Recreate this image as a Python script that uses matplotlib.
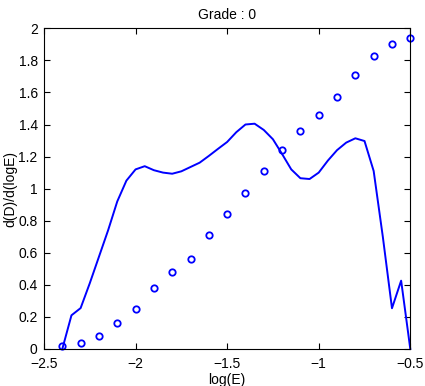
import matplotlib
matplotlib.use("Agg")
import matplotlib.pyplot as plt
import numpy as np

plt.rcParams['font.family'] = ['Liberation Sans', 'DejaVu Sans']

# Circle markers
marker_x = [-2.4, -2.3, -2.2, -2.1, -2.0, -1.9, -1.8, -1.7, -1.6, -1.5,
            -1.4, -1.3, -1.2, -1.1, -1.0, -0.9, -0.8, -0.7, -0.6, -0.5]
marker_y = [0.02, 0.04, 0.08, 0.16, 0.25, 0.38, 0.48, 0.56, 0.71, 0.84,
            0.97, 1.11, 1.24, 1.36, 1.46, 1.57, 1.71, 1.83, 1.90, 1.94]

# Line
line_x = [-2.4, -2.35, -2.3, -2.25, -2.2, -2.15, -2.1, -2.05, -2.0, -1.95,
          -1.9, -1.85, -1.8, -1.75, -1.7, -1.65, -1.6, -1.55, -1.5, -1.45,
          -1.4, -1.35, -1.3, -1.25, -1.2, -1.15, -1.1, -1.05, -1.0, -0.95,
          -0.9, -0.85, -0.8, -0.75, -0.7, -0.65, -0.6, -0.55, -0.5]
line_y = [0.0, 0.21, 0.255, 0.41, 0.575, 0.74, 0.92, 1.05, 1.12, 1.14,
          1.115, 1.10, 1.093, 1.108, 1.135, 1.162, 1.204, 1.248, 1.291, 1.352,
          1.40, 1.405, 1.366, 1.308, 1.216, 1.12, 1.065, 1.06, 1.10, 1.175,
          1.24, 1.287, 1.314, 1.297, 1.11, 0.70, 0.254, 0.426, 0.0]

xticks = [-2.5, -2, -1.5, -1, -0.5]
xticklabels = ['\u22122.5', '\u22122', '\u22121.5', '\u22121', '\u22120.5']
yticks = [0, 0.2, 0.4, 0.6, 0.8, 1, 1.2, 1.4, 1.6, 1.8, 2]
yticklabels = ['0', '0.2', '0.4', '0.6', '0.8', '1', '1.2', '1.4', '1.6', '1.8', '2']

fig = plt.figure(figsize=(4.25, 3.86), dpi=100)
ax = fig.add_axes([0.1035, 0.0959, 0.8619, 0.8308])

ax.plot(line_x, line_y, color='#0000ff', linewidth=1.4, clip_on=False)
ax.plot(marker_x, marker_y, linestyle='none', marker='o', markersize=4.6,
        markerfacecolor='none', markeredgecolor='#0000ff', markeredgewidth=1.3,
        clip_on=False)

ax.set_xlim(-2.5, -0.5)
ax.set_ylim(0, 2)
ax.set_xticks(xticks)
ax.set_xticklabels(xticklabels)
ax.set_yticks(yticks)
ax.set_yticklabels(yticklabels)
ax.tick_params(direction='in', length=4, width=0.8, top=True, right=True,
               labelsize=10, colors='black')
ax.tick_params(axis='y', pad=4.5)
ax.tick_params(axis='x', pad=5.5)
for s in ax.spines.values():
    s.set_linewidth(0.8)

ax.set_title('Grade : 0', fontsize=10, pad=7)
ax.set_xlabel('log(E)', fontsize=10, labelpad=2)
ax.set_ylabel('d(D)/d(logE)', fontsize=10)
ax.yaxis.set_label_coords(-0.073, 0.5)

fig.savefig('out.png', dpi=100)
